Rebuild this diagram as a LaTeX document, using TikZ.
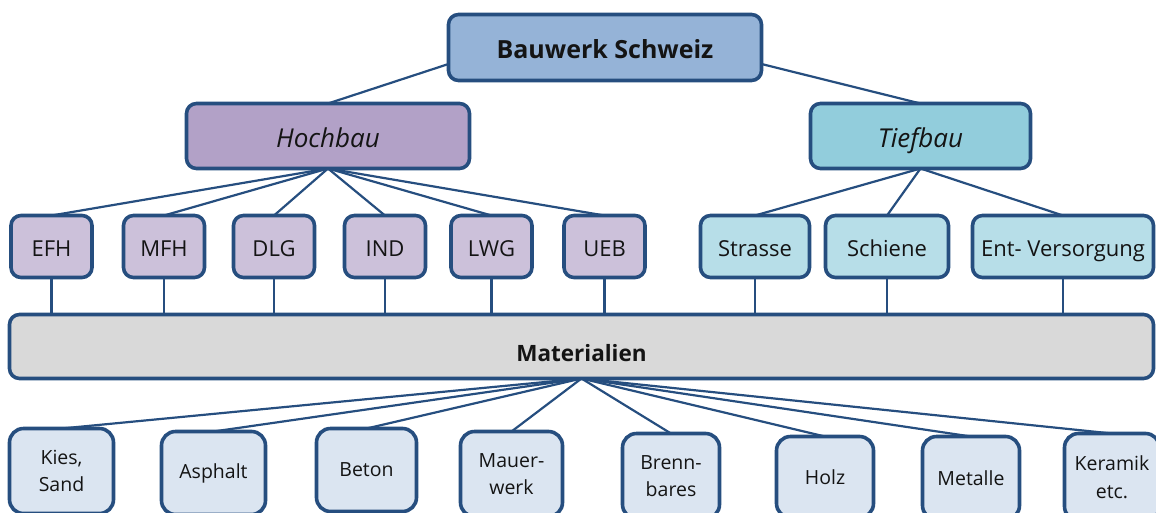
\documentclass[tikz,border=0pt]{standalone}
\usepackage{fontspec}
\setmainfont{Open Sans}
\usetikzlibrary{calc}
\definecolor{bord}{HTML}{264E7F}
\definecolor{txt}{HTML}{141414}
\definecolor{cTop}{HTML}{95B3D7}
\definecolor{cHoch}{HTML}{B2A1C7}
\definecolor{cTief}{HTML}{92CDDC}
\definecolor{cHochSub}{HTML}{CCC1DA}
\definecolor{cTiefSub}{HTML}{B7DEE8}
\definecolor{cMat}{HTML}{D9D9D9}
\definecolor{cLeaf}{HTML}{DBE5F1}
\tikzset{
  box/.style={draw=bord, line width=3.6pt, rounded corners=10pt, inner sep=0pt, outer sep=0pt, align=center, text=txt},
  topbox/.style={box, fill=cTop, minimum width=313pt, minimum height=66pt,
    font=\fontsize{25pt}{30pt}\selectfont\bfseries, text height=21.9pt, text depth=0pt},
  branch/.style={box, minimum height=65pt,
    font=\fontsize{26pt}{31pt}\selectfont\itshape, text height=22.5pt, text depth=0pt},
  sub/.style={box, minimum height=62pt,
    font=\fontsize{22pt}{26pt}\selectfont, text height=19.7pt, text depth=0pt},
  hsub/.style={sub, fill=cHochSub, minimum width=81pt},
  tsub/.style={sub, fill=cTiefSub},
  matbox/.style={box, fill=cMat, minimum width=1144pt, minimum height=64pt,
    font=\fontsize{22.5pt}{27pt}\selectfont\bfseries, text height=29pt, text depth=0pt},
  leaf/.style={box, fill=cLeaf, rounded corners=14pt,
    font=\fontsize{19.5pt}{27.5pt}\selectfont},
  conn/.style={draw=bord, line width=2.2pt}
}
\begin{document}
\begin{tikzpicture}[x=1pt,y=-1pt]
\useasboundingbox (0,0) rectangle (1156,512);
\clip (0,0) rectangle (1156,512);

% top level
\node[topbox] (top) at (605,47.5) {Bauwerk Schweiz};
\node[branch, fill=cHoch, minimum width=283pt] (hoch) at (328,136) {Hochbau};
\node[branch, fill=cTief, minimum width=220pt] (tief) at (920.5,136) {Tiefbau};

% second row
\node[hsub] (efh) at (51.5,246.5) {EFH};
\node[hsub] (mfh) at (164,246.5) {MFH};
\node[hsub] (dlg) at (274,246.5) {DLG};
\node[hsub] (ind) at (385,246.5) {IND};
\node[hsub] (lwg) at (491.5,246.5) {LWG};
\node[hsub] (ueb) at (604.5,246.5) {UEB};
\node[tsub, minimum width=109pt] (str) at (755,246.5) {Strasse};
\node[tsub, minimum width=123pt] (sch) at (887,246.5) {Schiene};
\node[tsub, minimum width=181pt] (ent) at (1063,246.5) {Ent- Versorgung};

% materials bar
\node[matbox] (mat) at (581.5,346.5) {Materialien};

% leaves
\node[leaf, minimum width=104pt, minimum height=85pt] (kies) at (61.5,471) {Kies,\\Sand};
\node[leaf, minimum width=104pt, minimum height=83pt] (asph) at (213.5,473) {Asphalt};
\node[leaf, minimum width=100pt, minimum height=83pt] (bet) at (366.5,470) {Beton};
\node[leaf, minimum width=102pt, minimum height=85pt] (mau) at (511.5,474) {Mauer-\\werk};
\node[leaf, minimum width=97pt, minimum height=85pt] (bre) at (671,476) {Brenn-\\bares};
\node[leaf, minimum width=97pt, minimum height=81pt] (holz) at (825,477) {Holz};
\node[leaf, minimum width=97pt, minimum height=83pt] (met) at (971,478) {Metalle};
\node[leaf, minimum width=95pt, minimum height=87pt] (ker) at (1112,477) {Keramik\\etc.};

% connectors: top
\draw[conn] ($(top.south west)!0.25!(top.north west)$) -- (hoch.north);
\draw[conn] ($(top.south east)!0.25!(top.north east)$) -- (tief.north);

% Hochbau fan
\foreach \n in {efh,mfh,dlg,ind,lwg,ueb}
  \draw[conn] (hoch.south) -- (\n.north);
% Tiefbau fan
\foreach \n in {str,sch,ent}
  \draw[conn] (tief.south) -- (\n.north);
% verticals to Materialien
\foreach \n in {efh,mfh,dlg,ind,lwg,ueb,str,sch,ent}
  \draw[conn] (\n.south) -- (\n.south |- mat.north);
% Materialien fan
\foreach \n in {kies,asph,bet,mau,bre,holz,met,ker}
  \draw[conn] (mat.south) -- (\n.north);
\end{tikzpicture}
\end{document}
